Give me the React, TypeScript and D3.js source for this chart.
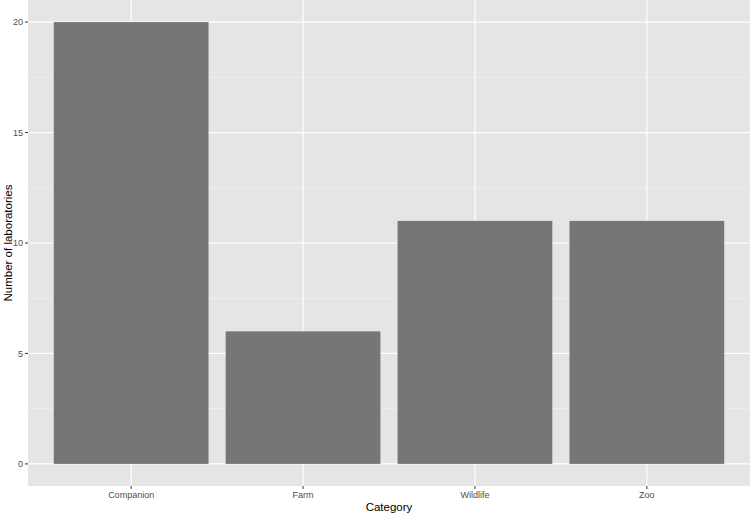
import React from "react";
import * as d3 from "d3";

const categories = ["Companion", "Farm", "Wildlife", "Zoo"];
const counts = [20, 6, 11, 11];
const yTicks = [0, 5, 10, 15, 20];
const yMinor = [2.5, 7.5, 12.5, 17.5];

const W = 750;
const H = 514;
const panel = { left: 28, right: 750, top: 0, bottom: 486 };

export default function App() {
  const y = d3.scaleLinear().domain([-1, 21]).range([panel.bottom, panel.top]);
  const x = d3
    .scalePoint<string>()
    .domain(categories)
    .range([panel.left, panel.right])
    .padding(0.6);
  const bw = x.step() * 0.9;
  const font = "Liberation Sans, Arial, Helvetica, sans-serif";
  return (
    <svg
      width={W}
      height={H}
      style={{ position: "absolute", left: 0, top: 0 }}
      fontFamily={font}
    >
      <rect x={0} y={0} width={W} height={H} fill="#ffffff" />
      <rect
        x={panel.left}
        y={panel.top}
        width={panel.right - panel.left}
        height={panel.bottom - panel.top}
        fill="#e5e5e5"
      />
      {yMinor.map((v) => (
        <line
          key={"m" + v}
          x1={panel.left}
          x2={panel.right}
          y1={y(v)}
          y2={y(v)}
          stroke="#f2f2f2"
          strokeWidth={0.6}
        />
      ))}
      {yTicks.map((v) => (
        <line
          key={"g" + v}
          x1={panel.left}
          x2={panel.right}
          y1={y(v)}
          y2={y(v)}
          stroke="#ffffff"
          strokeWidth={1.2}
        />
      ))}
      {categories.map((c) => (
        <line
          key={"gx" + c}
          x1={x(c)!}
          x2={x(c)!}
          y1={panel.top}
          y2={panel.bottom}
          stroke="#ffffff"
          strokeWidth={1.2}
        />
      ))}
      {categories.map((c, i) => (
        <rect
          key={"b" + c}
          x={x(c)! - bw / 2}
          y={y(counts[i])}
          width={bw}
          height={y(0) - y(counts[i])}
          fill="#777575"
        />
      ))}
      {yTicks.map((v) => (
        <g key={"yt" + v}>
          <line
            x1={panel.left - 3}
            x2={panel.left}
            y1={y(v)}
            y2={y(v)}
            stroke="#333333"
            strokeWidth={1}
          />
          <text
            x={panel.left - 5}
            y={y(v)}
            dy="0.35em"
            textAnchor="end"
            fontSize={9}
            fill="#4d4d4d"
          >
            {v}
          </text>
        </g>
      ))}
      {categories.map((c) => (
        <g key={"xt" + c}>
          <line
            x1={x(c)!}
            x2={x(c)!}
            y1={panel.bottom}
            y2={panel.bottom + 3}
            stroke="#333333"
            strokeWidth={1}
          />
          <text
            x={x(c)!}
            y={panel.bottom + 12}
            textAnchor="middle"
            fontSize={9}
            fill="#4d4d4d"
          >
            {c}
          </text>
        </g>
      ))}
      <text
        x={(panel.left + panel.right) / 2}
        y={511}
        textAnchor="middle"
        fontSize={11.5}
        fill="#000000"
      >
        Category
      </text>
      <text
        transform={`translate(12,${(panel.top + panel.bottom) / 2}) rotate(-90)`}
        textAnchor="middle"
        fontSize={11.5}
        fill="#000000"
      >
        Number of laboratories
      </text>
    </svg>
  );
}
